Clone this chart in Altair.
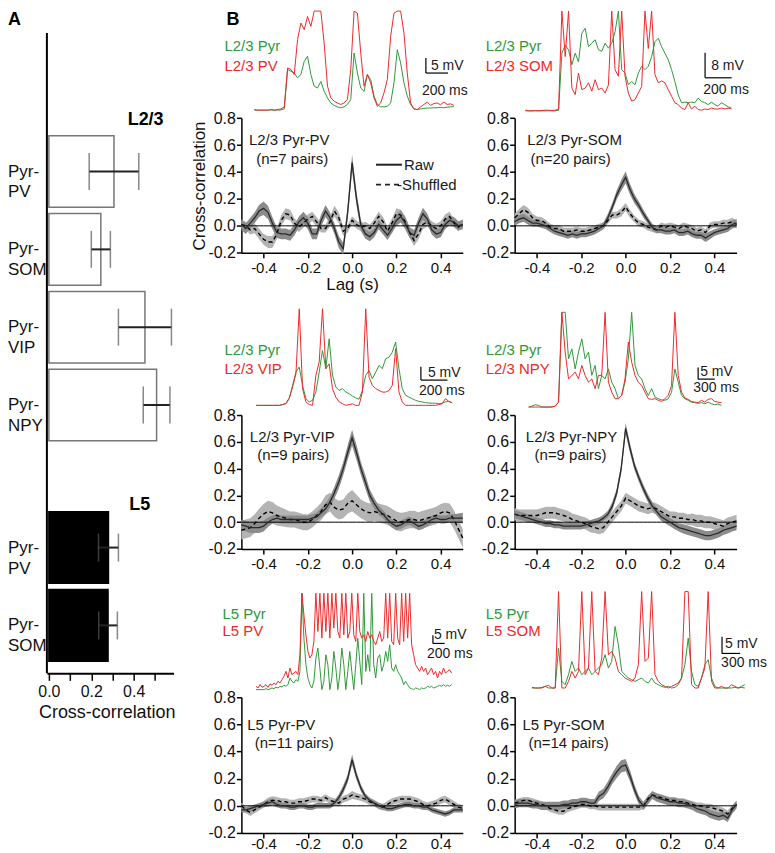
import altair as alt
import numpy as np
import pandas as pd

FONT = "Liberation Sans"
GREEN = "#2f9a3a"
RED = "#ec2a2a"
RAW_BAND = "#8c8c8c"
SHUF_BAND = "#b4b4b4"

# ---------------- Panel A data ----------------
A_L23_PAIRS = ["Pyr-\nPV", "Pyr-\nSOM", "Pyr-\nVIP", "Pyr-\nNPY"]
A_L23_MEAN = [0.307, 0.245, 0.453, 0.508]
A_L23_SEM = [0.117, 0.045, 0.125, 0.063]
A_L5_PAIRS = ["Pyr-\nPV", "Pyr-\nSOM"]
A_L5_MEAN = [0.281, 0.279]
A_L5_SEM = [0.047, 0.044]
A_TICKS = [0.0, 0.1, 0.2, 0.3, 0.4, 0.5]

# ---------------- Cross-correlation data (lag grid 0.02 s) ----------------
LAG = np.round(np.linspace(-0.5, 0.5, 51), 2)
XC_XTICKS = [-0.4, -0.2, 0.0, 0.2, 0.4]
XC_YTICKS = [-0.2, 0.0, 0.2, 0.4, 0.6, 0.8]

PV23_RAW = [0.01, -0.02, 0.02, 0.06, 0.11, 0.13, 0.10, 0.02, -0.05, -0.06,
            -0.06, -0.07, -0.03, 0.03, 0.06, 0.02, -0.06, -0.06, 0.04, 0.11,
            0.06, -0.02, -0.12, -0.17, 0.10, 0.47, 0.20, 0.00, -0.06, -0.08,
            -0.05, 0.01, -0.03, -0.07, -0.02, 0.04, 0.07, 0.02, -0.05, -0.07,
            0.02, 0.09, 0.05, -0.03, -0.06, -0.05, 0.01, 0.04, 0.03, 0.00, 0.01]
PV23_SHUF = [0.01, 0.00, -0.03, -0.02, -0.06, -0.10, -0.12, -0.12, -0.06, 0.04,
             0.09, 0.08, 0.02, -0.01, 0.02, 0.05, 0.07, 0.03, -0.02, -0.02,
             0.03, 0.11, 0.06, -0.04, -0.02, 0.04, 0.01, -0.01, 0.00, -0.02,
             0.02, 0.07, 0.03, -0.04, 0.02, 0.09, 0.08, 0.03, -0.05, -0.11,
             -0.06, 0.01, 0.03, 0.00, -0.02, 0.00, 0.05, 0.07, 0.02, -0.01, 0.02]
PV23_RAW_SEM = [0.04, 0.04, 0.04, 0.04, 0.045, 0.05, 0.05, 0.045, 0.04, 0.04,
                0.04, 0.04, 0.04, 0.04, 0.045, 0.045, 0.04, 0.04, 0.045, 0.045,
                0.04, 0.04, 0.045, 0.045, 0.05, 0.06, 0.05, 0.04, 0.035, 0.035,
                0.035, 0.035, 0.035, 0.035, 0.035, 0.04, 0.045, 0.045, 0.04, 0.04,
                0.04, 0.045, 0.04, 0.035, 0.035, 0.035, 0.035, 0.035, 0.035, 0.035, 0.035]
PV23_SHUF_SEM = [0.03, 0.03, 0.035, 0.035, 0.04, 0.04, 0.045, 0.045, 0.04, 0.04,
                 0.04, 0.04, 0.035, 0.035, 0.035, 0.035, 0.035, 0.035, 0.03, 0.03,
                 0.035, 0.04, 0.04, 0.035, 0.03, 0.03, 0.03, 0.03, 0.03, 0.03,
                 0.03, 0.035, 0.035, 0.035, 0.035, 0.04, 0.04, 0.04, 0.04, 0.04,
                 0.04, 0.035, 0.035, 0.035, 0.035, 0.035, 0.035, 0.035, 0.03, 0.03, 0.03]

SOM23_RAW = [0.03, 0.05, 0.06, 0.04, 0.02, 0.02, 0.01, 0.00, -0.02, -0.04,
             -0.05, -0.06, -0.07, -0.06, -0.07, -0.06, -0.06, -0.05, -0.04, -0.02,
             0.00, 0.06, 0.14, 0.23, 0.30, 0.36, 0.27, 0.20, 0.15, 0.09,
             0.04, -0.01, -0.03, -0.03, -0.04, -0.04, -0.03, -0.05, -0.05, -0.04,
             -0.06, -0.07, -0.07, -0.09, -0.07, -0.05, -0.04, -0.03, -0.02, 0.01, 0.02]
SOM23_SHUF = [0.06, 0.09, 0.12, 0.10, 0.06, 0.04, 0.04, 0.02, -0.01, -0.02,
              -0.02, -0.04, -0.04, -0.04, -0.03, -0.04, -0.04, -0.03, -0.02, -0.01,
              0.00, 0.04, 0.08, 0.08, 0.10, 0.14, 0.09, 0.05, 0.02, 0.01,
              -0.01, -0.02, -0.03, 0.00, -0.01, 0.00, -0.01, -0.02, 0.00, -0.01,
              -0.02, -0.04, -0.03, -0.05, 0.00, 0.01, 0.01, 0.02, 0.02, 0.03, 0.01]
SOM23_RAW_SEM = [0.03, 0.03, 0.03, 0.03, 0.025, 0.025, 0.025, 0.025, 0.025, 0.025,
                 0.025, 0.025, 0.025, 0.025, 0.025, 0.025, 0.025, 0.025, 0.025, 0.025,
                 0.025, 0.03, 0.03, 0.035, 0.04, 0.045, 0.04, 0.035, 0.03, 0.03,
                 0.025, 0.025, 0.025, 0.025, 0.025, 0.025, 0.025, 0.025, 0.025, 0.025,
                 0.025, 0.025, 0.025, 0.03, 0.03, 0.025, 0.025, 0.025, 0.025, 0.03, 0.03]
SOM23_SHUF_SEM = [0.03, 0.035, 0.035, 0.035, 0.03, 0.03, 0.025, 0.025, 0.025, 0.025,
                  0.025, 0.025, 0.025, 0.025, 0.025, 0.025, 0.025, 0.025, 0.025, 0.025,
                  0.025, 0.025, 0.025, 0.025, 0.03, 0.03, 0.03, 0.025, 0.025, 0.025,
                  0.025, 0.025, 0.025, 0.025, 0.025, 0.025, 0.025, 0.025, 0.025, 0.025,
                  0.025, 0.025, 0.025, 0.025, 0.025, 0.025, 0.025, 0.025, 0.025, 0.03, 0.03]

VIP23_RAW = [-0.02, -0.03, -0.04, -0.04, -0.04, -0.03, 0.00, 0.02, 0.03, 0.02,
             0.02, 0.02, 0.02, 0.02, 0.02, 0.02, 0.03, 0.04, 0.07, 0.10,
             0.15, 0.22, 0.30, 0.40, 0.52, 0.63, 0.52, 0.40, 0.30, 0.20,
             0.14, 0.09, 0.06, 0.02, -0.01, -0.03, -0.02, 0.00, 0.01, -0.01,
             -0.03, -0.02, 0.00, 0.02, 0.03, 0.02, 0.02, 0.03, 0.03, 0.03, 0.03]
VIP23_SHUF = [-0.06, -0.05, -0.04, -0.01, 0.03, 0.06, 0.08, 0.07, 0.05, 0.04,
              0.03, 0.02, 0.02, 0.01, 0.00, 0.00, 0.02, 0.05, 0.08, 0.13,
              0.15, 0.11, 0.09, 0.10, 0.14, 0.16, 0.13, 0.10, 0.08, 0.07,
              0.08, 0.07, 0.06, 0.05, 0.03, 0.01, 0.00, 0.01, 0.02, 0.02,
              0.01, 0.02, 0.03, 0.04, 0.05, 0.07, 0.08, 0.07, 0.02, -0.05, -0.12]
VIP23_RAW_SEM = [0.04, 0.04, 0.04, 0.04, 0.04, 0.04, 0.035, 0.03, 0.03, 0.03,
                 0.03, 0.03, 0.03, 0.03, 0.03, 0.03, 0.03, 0.03, 0.035, 0.04,
                 0.04, 0.045, 0.05, 0.05, 0.055, 0.06, 0.055, 0.05, 0.05, 0.045,
                 0.04, 0.035, 0.03, 0.03, 0.03, 0.03, 0.03, 0.03, 0.03, 0.03,
                 0.03, 0.03, 0.03, 0.03, 0.03, 0.03, 0.03, 0.03, 0.03, 0.035, 0.04]
VIP23_SHUF_SEM = [0.07, 0.07, 0.07, 0.07, 0.07, 0.075, 0.08, 0.08, 0.075, 0.07,
                  0.065, 0.06, 0.06, 0.06, 0.06, 0.06, 0.06, 0.06, 0.065, 0.07,
                  0.07, 0.07, 0.07, 0.07, 0.075, 0.08, 0.075, 0.07, 0.07, 0.07,
                  0.07, 0.07, 0.07, 0.07, 0.07, 0.07, 0.07, 0.065, 0.065, 0.065,
                  0.065, 0.065, 0.065, 0.065, 0.065, 0.065, 0.065, 0.07, 0.07, 0.07, 0.07]

NPY23_RAW = [0.06, 0.05, 0.04, 0.03, 0.02, 0.01, 0.00, -0.01, -0.01, -0.02,
             -0.02, -0.03, -0.03, -0.03, -0.03, -0.03, -0.02, -0.01, 0.00, 0.01,
             0.03, 0.06, 0.12, 0.22, 0.40, 0.70, 0.55, 0.42, 0.33, 0.25,
             0.18, 0.12, 0.08, 0.04, 0.02, 0.00, -0.02, -0.04, -0.05, -0.06,
             -0.07, -0.08, -0.09, -0.10, -0.10, -0.09, -0.08, -0.06, -0.05, -0.04, -0.03]
NPY23_SHUF = [0.06, 0.05, 0.05, 0.05, 0.05, 0.05, 0.06, 0.07, 0.07, 0.07,
              0.06, 0.05, 0.04, 0.02, 0.01, 0.00, -0.01, -0.03, -0.04, -0.05,
              -0.04, 0.00, 0.04, 0.08, 0.12, 0.18, 0.16, 0.14, 0.12, 0.11,
              0.10, 0.11, 0.10, 0.08, 0.06, 0.04, 0.04, 0.03, 0.03, 0.02,
              0.02, 0.01, 0.01, 0.00, 0.00, -0.01, -0.02, -0.03, -0.01, 0.00, 0.01]
NPY23_RAW_SEM = [0.03, 0.03, 0.03, 0.03, 0.025, 0.025, 0.025, 0.025, 0.025, 0.025,
                 0.025, 0.025, 0.025, 0.025, 0.025, 0.025, 0.025, 0.025, 0.025, 0.025,
                 0.025, 0.025, 0.03, 0.03, 0.035, 0.04, 0.035, 0.03, 0.03, 0.03,
                 0.03, 0.03, 0.03, 0.03, 0.03, 0.03, 0.03, 0.03, 0.035, 0.035,
                 0.035, 0.035, 0.035, 0.035, 0.035, 0.035, 0.035, 0.035, 0.035, 0.03, 0.03]
NPY23_SHUF_SEM = [0.045, 0.045, 0.045, 0.045, 0.045, 0.045, 0.045, 0.045, 0.045, 0.045,
                  0.045, 0.045, 0.045, 0.045, 0.045, 0.045, 0.045, 0.045, 0.04, 0.04,
                  0.04, 0.04, 0.04, 0.04, 0.04, 0.04, 0.04, 0.04, 0.04, 0.04,
                  0.04, 0.04, 0.04, 0.04, 0.04, 0.04, 0.04, 0.04, 0.04, 0.04,
                  0.045, 0.045, 0.045, 0.045, 0.045, 0.045, 0.045, 0.045, 0.045, 0.045, 0.045]

PV5_RAW = [-0.03, -0.03, -0.02, -0.01, 0.00, 0.01, 0.02, 0.03, 0.01, 0.00,
           0.00, -0.01, -0.01, 0.00, 0.00, -0.01, -0.01, 0.00, 0.00, 0.00,
           0.00, 0.02, 0.06, 0.12, 0.20, 0.34, 0.22, 0.13, 0.07, 0.04,
           0.02, 0.00, -0.01, -0.02, -0.02, -0.01, 0.00, 0.01, 0.01, 0.00,
           0.00, -0.01, -0.01, -0.03, -0.04, -0.05, -0.06, -0.05, -0.03, -0.03, -0.03]
PV5_SHUF = [0.00, -0.03, -0.05, -0.03, -0.01, 0.01, 0.03, 0.04, 0.04, 0.03,
            0.03, 0.02, 0.02, 0.03, 0.03, 0.04, 0.05, 0.05, 0.04, 0.06,
            0.04, 0.03, 0.02, 0.05, 0.06, 0.08, 0.07, 0.06, 0.05, 0.03,
            0.02, 0.00, -0.01, 0.01, 0.03, 0.04, 0.05, 0.05, 0.05, 0.04,
            0.03, 0.01, 0.00, 0.01, 0.02, 0.04, 0.05, 0.03, 0.01, -0.01, -0.02]
PV5_RAW_SEM = [0.02, 0.02, 0.02, 0.02, 0.02, 0.02, 0.025, 0.025, 0.02, 0.02,
               0.02, 0.02, 0.02, 0.02, 0.02, 0.02, 0.02, 0.02, 0.02, 0.02,
               0.02, 0.02, 0.025, 0.03, 0.03, 0.04, 0.03, 0.025, 0.02, 0.02,
               0.02, 0.02, 0.02, 0.02, 0.02, 0.02, 0.02, 0.02, 0.02, 0.02,
               0.02, 0.02, 0.02, 0.02, 0.02, 0.02, 0.02, 0.02, 0.02, 0.02, 0.02]
PV5_SHUF_SEM = [0.025, 0.025, 0.025, 0.025, 0.025, 0.025, 0.03, 0.03, 0.025, 0.025,
                0.025, 0.025, 0.025, 0.025, 0.025, 0.025, 0.025, 0.025, 0.025, 0.025,
                0.025, 0.025, 0.025, 0.025, 0.025, 0.03, 0.025, 0.025, 0.025, 0.025,
                0.025, 0.025, 0.025, 0.025, 0.025, 0.025, 0.025, 0.025, 0.025, 0.025,
                0.025, 0.025, 0.025, 0.025, 0.025, 0.025, 0.025, 0.025, 0.025, 0.025, 0.025]

SOM5_RAW = [0.01, 0.02, 0.02, 0.02, 0.01, 0.01, 0.00, 0.00, 0.00, 0.00,
            0.00, 0.01, 0.01, 0.02, 0.02, 0.03, 0.03, 0.02, 0.02, 0.07,
            0.09, 0.14, 0.20, 0.25, 0.29, 0.30, 0.22, 0.12, 0.04, 0.00,
            0.04, 0.08, 0.06, 0.05, 0.04, 0.03, 0.03, 0.02, 0.02, 0.01,
            0.00, -0.02, -0.03, -0.04, -0.06, -0.07, -0.08, -0.07, -0.09, -0.03, 0.01]
SOM5_SHUF = [0.02, 0.03, 0.04, 0.04, 0.03, 0.02, 0.01, 0.00, -0.02, -0.03,
             -0.04, -0.04, -0.02, -0.01, 0.00, 0.01, 0.01, 0.00, 0.00, -0.01,
             -0.01, -0.01, -0.01, -0.01, -0.01, -0.01, -0.01, -0.01, -0.01, 0.00,
             0.05, 0.08, 0.07, 0.06, 0.05, 0.04, 0.04, 0.03, 0.03, 0.02,
             0.01, 0.00, 0.00, -0.01, -0.01, -0.02, -0.03, -0.04, -0.06, -0.02, 0.01]
SOM5_RAW_SEM = [0.03, 0.03, 0.03, 0.03, 0.03, 0.03, 0.03, 0.03, 0.03, 0.03,
                0.03, 0.03, 0.03, 0.03, 0.03, 0.03, 0.03, 0.03, 0.03, 0.035,
                0.035, 0.04, 0.04, 0.045, 0.045, 0.045, 0.04, 0.035, 0.03, 0.03,
                0.03, 0.03, 0.03, 0.03, 0.03, 0.03, 0.03, 0.03, 0.03, 0.03,
                0.03, 0.03, 0.03, 0.03, 0.03, 0.03, 0.03, 0.03, 0.03, 0.03, 0.03]
SOM5_SHUF_SEM = [0.025, 0.025, 0.025, 0.025, 0.025, 0.025, 0.025, 0.025, 0.025, 0.025,
                 0.025, 0.025, 0.025, 0.025, 0.025, 0.025, 0.025, 0.025, 0.025, 0.025,
                 0.025, 0.025, 0.025, 0.025, 0.025, 0.025, 0.025, 0.025, 0.025, 0.025,
                 0.025, 0.025, 0.025, 0.025, 0.025, 0.025, 0.025, 0.025, 0.025, 0.025,
                 0.025, 0.025, 0.025, 0.025, 0.025, 0.025, 0.025, 0.025, 0.025, 0.025, 0.025]

XCORR = {
    "pv23": (PV23_RAW, PV23_RAW_SEM, PV23_SHUF, PV23_SHUF_SEM),
    "som23": (SOM23_RAW, SOM23_RAW_SEM, SOM23_SHUF, SOM23_SHUF_SEM),
    "vip23": (VIP23_RAW, VIP23_RAW_SEM, VIP23_SHUF, VIP23_SHUF_SEM),
    "npy23": (NPY23_RAW, NPY23_RAW_SEM, NPY23_SHUF, NPY23_SHUF_SEM),
    "pv5": (PV5_RAW, PV5_RAW_SEM, PV5_SHUF, PV5_SHUF_SEM),
    "som5": (SOM5_RAW, SOM5_RAW_SEM, SOM5_SHUF, SOM5_SHUF_SEM),
}

# ---------------- Membrane potential traces (mV above rest) ----------------
PV23_TR_DT = 30  # ms per sample
PV23_TR_PYR = [0, 0, -0.1, 0, 0, 0.1, 0, 0, 0.1, 0.4,
               13.6, 13.0, 12.4, 10.8, 11.9, 16.3, 18.0, 11.9, 8.0, 7.4,
               9.6, 6.3, 4.1, 2.4, 1.6, 1.1, 0.8, 1.1, 1.9, 3.6,
               19.1, 12.4, 7.4, 6.3, 11.9, 10.2, 4.7, 1.9, 1.1, 1.1,
               1.3, 2.4, 9.1, 20.2, 15.8, 9.1, 4.7, 1.9, 0.4, 0.2,
               0.4, 0.6, 0.7, 0.7, 0.8, 0.8, 0.9, 0.8, 1.0, 1.1, 1.2]
PV23_TR_INT = [0.2, -0.1, 0, -0.3, 0, 0.2, 0, 0.2, 0.4, 1.1,
               14.1, 13.6, 11.9, 23.6, 29.1, 26.9, 31.3, 28.0, 33.6, 36,
               34.7, 22.4, 8.0, 4.1, 3.0, 2.4, 1.9, 2.4, 3.6, 13.6,
               36, 32.4, 19.1, 8.0, 11.9, 9.1, 4.1, 1.3, 2.4, 5.8,
               10.2, 24.7, 32.4, 36, 33.6, 25.8, 12.4, 2.4, 0.4, 0.2,
               1.1, 1.9, 2.7, 1.6, 2.2, 2.4, 1.8, 2.7, 1.9, 2.1, 1.6]

SOM23_TR_DT = 25
SOM23_TR_PYR = [-0.1, 0, -0.2, 0, -0.1, -0.2, -0.1, -0.2, -0.1, 0,
                0.2, 18.5, 21.1, 19.6, 14.8, 18.5, 15.7, 24.9, 26.5, 20.6,
                21.7, 22.8, 19.6, 19.1, 21.7, 20.1, 21.7, 25.4, 35, 13.2,
                12.1, 8.4, 9.4, 8.4, 12.1, 14.3, 13.2, 14.3, 17.4, 22.2,
                23.3, 20.6, 18.5, 16.4, 13.2, 9.4, 5.1, 2.6, 2.8, 2.6,
                2.8, 2.6, 4.1, 3.0, 2.6, 2.0, 2.8, 2.0, 1.5, 2.6,
                2.0, 1.3, 0.9]
SOM23_TR_INT = [0.2, -0.1, 0, 0.1, 0, 0.1, 0.2, 0.2, 0.1, 0.2,
                0.6, 35, 17.4, 35, 7.3, 5.2, 12.1, 6.8, 7.3, 9.0,
                6.3, 10.0, 6.8, 7.3, 5.7, 8.3, 35, 13.2, 11.1, 35,
                11.1, 5.7, 3.1, 3.6, 5.7, 7.8, 35, 20, 35, 11.6,
                9.0, 9.6, 9.0, 6.8, 4.7, 2.6, 2.0, 0.9, 0.4, 2.6,
                0.6, 1.5, 0.4, 0.2, 0.6, 0.4, 0.9, 0.6, 0.6, 0.9,
                0.6, 0.9, 0.6]

VIP23_TR_DT = 25
VIP23_TR_PYR = [0, -0.1, 0, -0.1, 0, -0.1, -0.1, 0, 0.3, 0.6,
                2.5, 7.5, 12.5, 14.4, 7.5, 2.5, 1.3, 1.9, 5.0, 12.5,
                20.6, 13.8, 25.0, 11.3, 6.9, 5.6, 6.3, 5.0, 4.4, 3.5,
                2.8, 2.3, 5.6, 11.3, 13.1, 10.0, 12.5, 15.0, 13.8, 17.5,
                18.1, 20.0, 23.8, 13.8, 6.3, 3.8, 3.1, 2.5, 1.9, 1.5,
                1.3, 1.0, 0.9, 0.8, 0.8, 0.6, 0.8, 1.3, 1.5, 1.0]
VIP23_TR_INT = [0, -0.1, 0, 0, -0.1, -0.1, 0, 0, 0.3, 0.8,
                2.8, 6.9, 11.9, 36.3, 6.3, 1.3, 0.3, -0.6, 11.3, 16.3,
                36.3, 13.8, 15.6, 6.3, 3.1, 1.3, 0.6, 0, 0.3, 0.6,
                -0.3, 0, 5.0, 36.3, 10.6, 7.5, 6.3, 5.6, 5.0, 5.0,
                5.6, 7.5, 21.3, 5.0, 1.3, 0, -0.6, -0.5, -0.3, -0.3,
                -0.5, -0.4, -0.3, 0, 0, 0.3, 0.6, 2.5, 1.5, 1.0]

NPY23_TR_DT = 60
NPY23_TR_PYR = [0, 0.4, 1.0, 0.7, 0, -0.3, -0.1, 0, 0.4, 2.1,
                40.7, 40.7, 20.7, 25.0, 16.4, 23.6, 29.3, 20.7, 23.6, 13.6,
                17.9, 7.9, 13.6, 12.1, 16.4, 10.7, 7.9, 3.6, 5.0, 10.7,
                20.7, 40.7, 17.9, 13.6, 12.1, 7.9, 5.0, 7.9, 4.3, 3.6,
                3.1, 2.9, 3.6, 6.4, 16.4, 10.7, 5.0, 3.6, 2.9, 2.1,
                1.9, 1.6, 1.9, 1.4, 2.1, 1.4, 1.0, 1.3, 0.7]
NPY23_TR_INT = [0, -0.3, -0.1, 0, -0.3, -0.1, 0, 0.1, 0.4, 2.1,
                40.7, 23.6, 12.1, 13.6, 15.0, 12.1, 17.9, 13.6, 10.7, 12.1,
                7.9, 13.6, 13.6, 40.7, 10.7, 6.4, 3.6, 3.6, 5.0, 12.1,
                27.9, 19.3, 13.6, 10.7, 9.3, 6.4, 3.6, 3.3, 3.6, 2.9,
                2.4, 3.6, 5.0, 9.3, 40.7, 13.6, 6.4, 3.9, 3.3, 2.4,
                2.1, 1.9, 2.9, 2.1, 3.3, 3.6, 2.4, 2.1, 1.9]

PV5_TR_DT = 34
PV5_TR_PYR = [-1.0, -0.4, 0, -0.6, -0.2, 0.6, 0, 0.4, 1.0, 0.6,
              1.4, 1.0, 2.0, 1.6, 2.6, 2.0, 3.0, 7.0, 5.0, 4.0,
              6.0, 5.0, 11.0, 58, 31.0, 15.0, 7.0, 3.0, 1.0, 5.0,
              19.0, 25.0, 13.0, 0, 5.0, 21.0, 15.0, -1.0, 7.0, 23.0,
              13.0, -1.4, 9.0, 25.0, 15.0, -1.0, 11.0, 23.0, 11.0, 0,
              15.0, 31.0, 17.0, 3.0, 58, 11.0, 21.0, 11.0, 58, 15.0,
              7.0, 19.0, 21.0, 11.0, 15.0, 23.0, 17.0, 27.0, 13.0, 11.0,
              15.0, 11.0, 9.0, 7.0, 3.0, 5.0, 3.0, 1.0, 0.6, 0,
              1.0, 0.6, 0, 1.0, 0.6, 1.0, 2.0, 1.4, 2.0, 1.0,
              1.4, 2.0, 2.6, 2.0, 3.0, 2.0, 2.6, 2.0, 3.0]
PV5_TR_INT = [2.0, 1.0, 3.0, 1.4, 2.0, 3.0, 1.4, 3.4, 2.6, 4.0,
              3.0, 5.0, 4.0, 6.0, 8.0, 11.0, 7.0, 13.0, 9.0, 10.0,
              11.0, 9.0, 21.0, 58, 45.0, 33.0, 23.0, 19.0, 21.0, 29.0,
              58, 35.0, 58, 31.0, 58, 35.0, 58, 31.0, 58, 37.0,
              58, 35.0, 31.0, 58, 33.0, 58, 31.0, 35.0, 58, 33.0,
              29.0, 58, 35.0, 31.0, 33.0, 29.0, 35.0, 31.0, 33.0, 29.0,
              27.0, 31.0, 35.0, 29.0, 31.0, 58, 31.0, 58, 29.0, 27.0,
              58, 31.0, 27.0, 58, 29.0, 58, 31.0, 58, 27.0, 21.0,
              15.0, 13.0, 11.0, 14.0, 11.0, 13.0, 9.0, 11.0, 13.0, 9.0,
              11.0, 7.0, 11.0, 9.0, 13.0, 10.0, 11.0, 12.0, 10.0]

SOM5_TR_DT = 55
SOM5_TR_PYR = [0, -0.2, 0, 0.2, 0.5, 0, -0.2, 0, 12.0, 2.0,
               1.0, 4.0, 8.0, 5.0, 6.0, 4.0, 5.0, 6.0, 4.0, 5.0,
               6.0, 7.0, 10.0, 6.0, 8.0, 18.5, 13.0, 5.0, 4.0, 3.0,
               2.5, 2.0, 2.5, 3.0, 2.0, 1.5, 3.0, 1.5, 1.0, 0.5,
               0.2, 0.5, 0, 0.2, 1.0, 3.0, 7.0, 15.0, 5.0, 1.0,
               0.5, 3.0, 7.0, 8.5, 3.0, 0.5, 0, -0.2, 0, -0.2,
               0, 0.2, 0, 0.5, 1.0]
SOM5_TR_INT = [0.2, 0, -0.2, 0, 0.5, 0.8, 0, -0.2, 29, -1.0,
               -2.5, 2.0, 5.0, 3.0, 5.0, 29, 4.0, 6.0, 29, 5.0,
               4.0, 9.0, 29, 10.0, 11.0, 9.0, 5.0, 4.0, 3.0, 2.5,
               2.0, 3.0, 7.0, 29, 8.0, 9.0, 29, 4.0, 2.0, 1.0,
               0.5, 0, 0.5, 1.0, 1.5, 3.0, 29, 29, 1.0, -1.0,
               -2.0, 3.0, 6.0, 29, 2.0, 0, -0.2, 0.5, 0, 0,
               1.0, 0.5, 0, 0.2, 0]

# trace: (pyr, interneuron, dt ms, clip top mV, scale bar time ms, scale bar mV base, bar mV, bar ms)
TRACES = {
    "pv23": (PV23_TR_PYR, PV23_TR_INT, PV23_TR_DT, 33.1, 1548, 12.4, 5, 200),
    "som23": (SOM23_TR_PYR, SOM23_TR_INT, SOM23_TR_DT, 32.0, 1352, 10.6, 8, 200),
    "vip23": (VIP23_TR_PYR, VIP23_TR_INT, VIP23_TR_DT, 36.3, 1240, 9.5, 5, 200),
    "npy23": (NPY23_TR_PYR, NPY23_TR_INT, NPY23_TR_DT, 40.7, 3060, 12.0, 5, 300),
    "pv5": (PV5_TR_PYR, PV5_TR_INT, PV5_TR_DT, 58.0, 3015, 27.8, 5, 200),
    "som5": (SOM5_TR_PYR, SOM5_TR_INT, SOM5_TR_DT, 29.0, 3144, 10.4, 5, 300),
}

# ---------------- Layout (pixels inside the chart) ----------------
W, H = 740, 826
COL_X = {"L": [234, 456], "R": [508, 730.5]}
ROW_Y = {1: [242.3, 107.3], 2: [539.3, 405], 3: [824, 688]}
ROW_LABEL_PAD = {1: 3, 2: 3, 3: -1}
TRACE_PX = {
    "pv23": ([247, 447], [99.3, 0]),
    "som23": ([518.7, 725.3], [100, 0]),
    "vip23": ([248.7, 445.3], [395.3, 298.5]),
    "npy23": ([522, 715.3], [397, 302]),
    "pv5": ([248.7, 444.7], [680.3, 583.7]),
    "som5": ([525.3, 738.7], [678.7, 582]),
}
MINUS_FMT = "datum.value < 0 ? '-' + format(-datum.value, '.1f') : format(datum.value, '.1f')"
DUMMY = pd.DataFrame({"k": [0]})


def text(s, x, y, size=15, color="#1a1a1a", align="left", weight="normal", baseline="middle"):
    return alt.Chart(DUMMY).mark_text(
        text=s, align=align, baseline=baseline, fontSize=size, color=color,
        fontWeight=weight, font=FONT
    ).encode(x=alt.value(x), y=alt.value(y))


def hline(x1, x2, y, dash=None, width=2.0, color="#222"):
    kw = dict(color=color, strokeWidth=width)
    if dash:
        kw["strokeDash"] = dash
    return alt.Chart(DUMMY).mark_rule(**kw).encode(x=alt.value(x1), x2=alt.value(x2), y=alt.value(y))


def panel_a():
    xs = alt.Scale(domain=[-0.0094, 0.588], range=[39, 166], nice=False, zero=False)
    xa = alt.Axis(orient="bottom", offset=664 - H, values=A_TICKS,
                  labelExpr="round(datum.value*10) % 2 == 0 ? format(datum.value, '.1f') : ''",
                  tickSize=7, tickWidth=1.5, domainWidth=2, labelFontSize=16, labelPadding=3,
                  labelFlush=False, labelOverlap=False, titleFontSize=18, titleFontWeight="normal",
                  titleX=99, titleY=39, titleBaseline="middle", titleAlign="center")

    def group(pairs, mean, sem, yrange, fill, stroke, cap):
        df = pd.DataFrame({"pair": pairs, "mean": mean, "sem": sem})
        df["lo"] = df["mean"] - df["sem"]
        df["hi"] = df["mean"] + df["sem"]
        ys = alt.Scale(domain=pairs, range=yrange, paddingInner=0.08, paddingOuter=0)
        Y = alt.Y("pair:N", scale=ys, axis=None)

        def X(f):
            return alt.X(f, scale=xs, axis=xa, title="Cross-correlation")
        base = alt.Chart(df)
        bars = base.mark_bar(fill=fill, stroke=stroke, strokeWidth=1.5).encode(
            x=X("mean:Q"), x2=alt.datum(0), y=Y)
        err = base.mark_rule(color="#222", strokeWidth=2).encode(x=X("lo:Q"), x2="hi:Q", y=Y)
        c1 = base.mark_tick(color="#555", thickness=1.5, size=cap).encode(x=X("lo:Q"), y=Y)
        c2 = base.mark_tick(color="#555", thickness=1.5, size=cap).encode(x=X("hi:Q"), y=Y)
        lab = base.mark_text(align="left", baseline="middle", lineBreak="\n", fontSize=17,
                             lineHeight=21, font=FONT, color="#111").encode(
            x=alt.value(0), y=Y, text="pair:N")
        return alt.layer(bars, err, c1, c2, lab)

    g23 = group(A_L23_PAIRS, A_L23_MEAN, A_L23_SEM, [125, 430.8], "white", "#777", 37)
    g5 = group(A_L5_PAIRS, A_L5_MEAN, A_L5_SEM, [502, 651.8], "black", "black", 28)
    return alt.layer(g23, g5).resolve_scale(y="independent")


def trace_panel(key):
    pyr, inh, dt, top, sb_t, sb_v, sb_mv, sb_ms = TRACES[key]
    xr, yr = TRACE_PX[key]
    n = len(pyr)
    df = pd.DataFrame({"t": np.arange(n) * dt, "pyr": pyr, "inh": inh})
    xs = alt.Scale(domain=[0, (n - 1) * dt], range=xr, nice=False, zero=False)
    ys = alt.Scale(domain=[0, top], range=yr, nice=False, zero=False, clamp=True)
    X = alt.X("t:Q", scale=xs, axis=None)
    g = alt.Chart(df).mark_line(color=GREEN, strokeWidth=1).encode(
        x=X, y=alt.Y("pyr:Q", scale=ys, axis=None))
    r = alt.Chart(df).mark_line(color=RED, strokeWidth=1).encode(
        x=X, y=alt.Y("inh:Q", scale=ys, axis=None))
    sb = pd.DataFrame({"t0": [sb_t], "t1": [sb_t + sb_ms], "v0": [sb_v], "v1": [sb_v + sb_mv]})
    vbar = alt.Chart(sb).mark_rule(color="black", strokeWidth=1.2).encode(
        x=alt.X("t0:Q", scale=xs, axis=None), y=alt.Y("v0:Q", scale=ys, axis=None), y2="v1:Q")
    hbar = alt.Chart(sb).mark_rule(color="black", strokeWidth=1.2).encode(
        x=alt.X("t0:Q", scale=xs, axis=None), x2="t1:Q", y=alt.Y("v0:Q", scale=ys, axis=None))
    return alt.layer(g, r, vbar, hbar)


def xcorr_panel(key, col, row, xtitle=None, ytitle=None):
    raw, raw_sem, shuf, shuf_sem = XCORR[key]
    xr, yr = COL_X[col], ROW_Y[row]
    df = pd.DataFrame({"lag": LAG, "raw": raw, "shuf": shuf, "rs": raw_sem, "ss": shuf_sem})
    df["r_lo"] = df["raw"] - df["rs"]
    df["r_hi"] = df["raw"] + df["rs"]
    df["s_lo"] = df["shuf"] - df["ss"]
    df["s_hi"] = df["shuf"] + df["ss"]
    df["zero"] = 0.0
    xs = alt.Scale(domain=[-0.5, 0.5], range=xr, nice=False, zero=False)
    ys = alt.Scale(domain=[-0.2, 0.8], range=yr, nice=False, zero=False)
    xkw = dict(orient="bottom", offset=yr[0] - H, values=XC_XTICKS, labelExpr=MINUS_FMT,
               tickSize=5, tickWidth=1.5, domainWidth=1.5, labelFontSize=15,
               labelPadding=ROW_LABEL_PAD[row], labelFlush=False, labelOverlap=False)
    if xtitle:
        xkw.update(titleX=(xr[0] + xr[1]) / 2, titleY=31.7, titleBaseline="middle",
                   titleAlign="center", titleFontSize=17, titleFontWeight="normal")
    ykw = dict(orient="left", offset=-xr[0], values=XC_YTICKS, labelExpr=MINUS_FMT,
               tickSize=5, tickWidth=1.5, domainWidth=1.5, labelFontSize=16, labelPadding=1,
               labelFlush=False, labelOverlap=False)
    if ytitle:
        ykw.update(titleX=-42, titleY=(yr[0] + yr[1]) / 2, titleAngle=270, titleBaseline="middle",
                   titleAlign="center", titleFontSize=17, titleFontWeight="normal")
    xa, ya = alt.Axis(**xkw), alt.Axis(**ykw)
    X = alt.X("lag:Q", scale=xs, axis=xa, title=xtitle)

    def Y(f):
        return alt.Y(f, scale=ys, axis=ya, title=ytitle)
    base = alt.Chart(df)
    band_s = base.mark_area(color=SHUF_BAND).encode(x=X, y=Y("s_lo:Q"), y2="s_hi:Q")
    band_r = base.mark_area(color=RAW_BAND).encode(x=X, y=Y("r_lo:Q"), y2="r_hi:Q")
    zero = base.mark_line(color="black", strokeWidth=1).encode(x=X, y=Y("zero:Q"))
    sh = base.mark_line(color="black", strokeWidth=1.4, strokeDash=[4, 3]).encode(x=X, y=Y("shuf:Q"))
    rw = base.mark_line(color="#2a2a2a", strokeWidth=1.3).encode(x=X, y=Y("raw:Q"))
    return alt.layer(band_s, band_r, zero, sh, rw)


layers = [
    panel_a(),
    alt.Chart(DUMMY).mark_rule(color="black", strokeWidth=2).encode(
        x=alt.value(39), y=alt.value(22), y2=alt.value(664)),
    text("A", 0, 0, 18, "black", "left", "bold", "top"),
    text("B", 219, 0, 18, "black", "left", "bold", "top"),
    text("L2/3", 138, 109, 18, "black", "center", "bold"),
    text("L5", 132, 495, 18, "black", "center", "bold"),
]
for k in ["pv23", "som23", "vip23", "npy23", "pv5", "som5"]:
    layers.append(trace_panel(k))
layers += [
    xcorr_panel("pv23", "L", 1, "Lag (s)", "Cross-correlation"),
    xcorr_panel("som23", "R", 1),
    xcorr_panel("vip23", "L", 2),
    xcorr_panel("npy23", "R", 2),
    xcorr_panel("pv5", "L", 3),
    xcorr_panel("som5", "R", 3),
]
# trace legends
for s, c, x, y in [
    ("L2/3 Pyr", GREEN, 217, 35), ("L2/3 PV", RED, 217, 55),
    ("L2/3 Pyr", GREEN, 479, 35), ("L2/3 SOM", RED, 479, 55),
    ("L2/3 Pyr", GREEN, 217, 340), ("L2/3 VIP", RED, 217, 359),
    ("L2/3 Pyr", GREEN, 479, 340), ("L2/3 NPY", RED, 479, 359),
    ("L5 Pyr", GREEN, 215, 604), ("L5 PV", RED, 215, 622),
    ("L5 Pyr", GREEN, 479, 604), ("L5 SOM", RED, 479, 622),
]:
    layers.append(text(s, x, y, 15, c))
# scale bar labels
for s, x, y in [
    ("5 mV", 424, 55), ("200 ms", 415, 80),
    ("8 mV", 705, 55), ("200 ms", 697, 79),
    ("5 mV", 421, 363), ("200 ms", 412, 381),
    ("5 mV", 694, 362), ("300 ms", 687, 378),
    ("5 mV", 427, 626), ("200 ms", 420, 645),
    ("5 mV", 719, 635), ("300 ms", 715, 654),
]:
    layers.append(text(s, x, y, 14, "#1a1a1a"))
# panel titles
for s, x, y in [
    ("L2/3 Pyr-PV", 282, 129), ("(n=7 pairs)", 285, 148),
    ("L2/3 Pyr-SOM", 568, 129), ("(n=20 pairs)", 564, 148),
    ("L2/3 Pyr-VIP", 285, 427), ("(n=9 pairs)", 286, 445),
    ("L2/3 Pyr-NPY", 565, 427), ("(n=9 pairs)", 564, 445),
    ("L5 Pyr-PV", 274, 716), ("(n=11 pairs)", 287, 734),
    ("L5 Pyr-SOM", 557, 716), ("(n=14 pairs)", 562, 734),
]:
    layers.append(text(s, x, y, 15, "#1a1a1a", "center"))
# legend for raw / shuffled
layers += [
    hline(369, 395, 154, width=2),
    text("Raw", 397, 154, 15),
    hline(369, 393, 174, dash=[5, 4], width=1.6),
    text("-Shuffled", 390, 174, 15),
]

chart = alt.layer(*layers).resolve_scale(x="independent", y="independent").properties(
    width=W, height=H, padding=0
).configure(font=FONT).configure_view(stroke=None).configure_axis(
    grid=False, domainColor="black", tickColor="black", labelColor="#111",
    titleColor="#111", labelFont=FONT, titleFont=FONT
)

chart.save("out.html", embed_options={"renderer": "svg", "actions": False})
